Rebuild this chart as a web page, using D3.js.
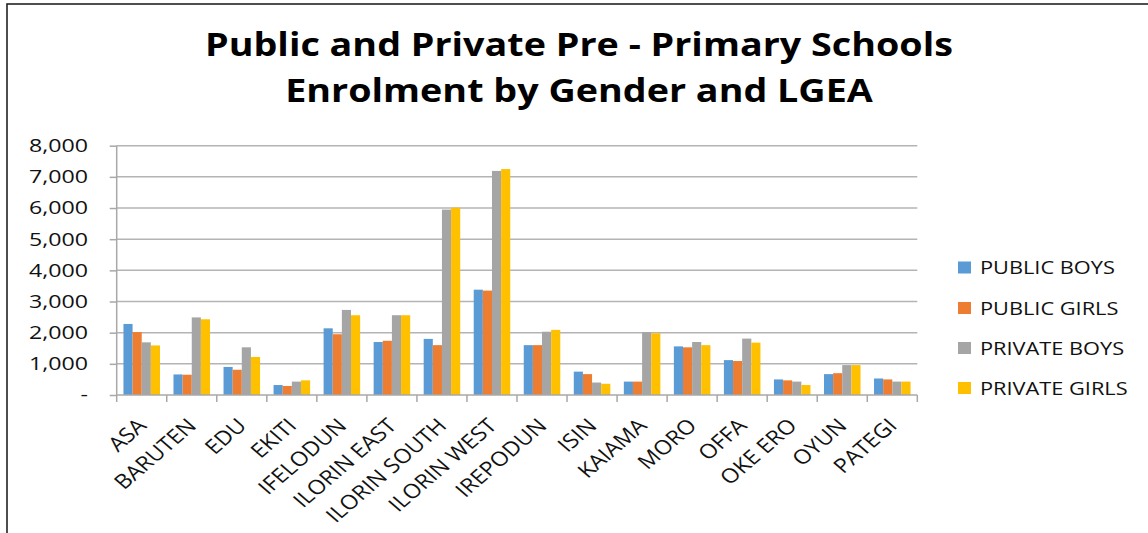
<!DOCTYPE html>
<html>
<head>
<meta charset="utf-8">
<script src="https://cdn.jsdelivr.net/npm/d3@7"></script>
<style>
  html, body { margin: 0; padding: 0; background: #fff; }
  svg { display: block; }
  text { font-family: "Open Sans", "Liberation Sans", sans-serif; }
</style>
</head>
<body>
<svg id="chart" width="1148" height="533"></svg>
<script>
const titleLines = ["Public and Private Pre - Primary Schools", "Enrolment by Gender and LGEA"];
const categories = ["ASA","BARUTEN","EDU","EKITI","IFELODUN","ILORIN EAST","ILORIN SOUTH","ILORIN WEST","IREPODUN","ISIN","KAIAMA","MORO","OFFA","OKE ERO","OYUN","PATEGI"];
const seriesNames = ["PUBLIC BOYS","PUBLIC GIRLS","PRIVATE BOYS","PRIVATE GIRLS"];
const seriesColors = ["#5b9bd5","#ed7d31","#a5a5a5","#ffc000"];
const publicBoys   = [2280, 660, 900, 320, 2140, 1700, 1800, 3380, 1600, 750, 430, 1560, 1120, 500, 670, 530];
const publicGirls  = [2020, 650, 810, 290, 1950, 1740, 1600, 3350, 1600, 670, 430, 1530, 1090, 470, 700, 500];
const privateBoys  = [1690, 2490, 1530, 430, 2730, 2560, 5950, 7190, 2030, 400, 2020, 1700, 1810, 430, 960, 430];
const privateGirls = [1590, 2430, 1220, 470, 2560, 2560, 6010, 7250, 2090, 360, 1980, 1600, 1680, 320, 960, 430];
const yTicks = [0, 1000, 2000, 3000, 4000, 5000, 6000, 7000, 8000];

const seriesValues = [publicBoys, publicGirls, privateBoys, privateGirls];
const svg = d3.select("#chart");

// outer border (only left and top visible)
svg.append("rect").attr("x", 7).attr("y", 4).attr("width", 1300).attr("height", 700)
  .attr("fill", "none").attr("stroke", "#222").attr("stroke-width", 1.6);

const plot = { left: 116.7, right: 917.3, top: 145.7, bottom: 395 };

const x0 = d3.scaleBand().domain(categories).range([plot.left, plot.right])
  .paddingInner(0.27).paddingOuter(0.135);
const x1 = d3.scaleBand().domain(seriesNames).range([0, x0.bandwidth()]);
const y = d3.scaleLinear().domain([0, 8000]).range([plot.bottom, plot.top]);
const color = d3.scaleOrdinal().domain(seriesNames).range(seriesColors);

// title
const tg = svg.append("g");
const titleY = [55.5, 102];
const tLines = titleLines.map((t, i) => tg.append("text")
  .attr("text-anchor", "middle").attr("font-weight", "bold").attr("font-size", 32)
  .attr("fill", "#000").text(t));
const tW = tLines[0].node().getComputedTextLength();
const tSx = 748 / tW;
tLines.forEach((s, i) => s.attr("transform", `translate(579,${titleY[i]}) scale(${tSx},1)`));

// gridlines
svg.append("g").selectAll("line").data(yTicks.filter(d => d > 0)).join("line")
  .attr("x1", plot.left).attr("x2", plot.right)
  .attr("y1", d => y(d)).attr("y2", d => y(d))
  .attr("stroke", "#b4b4b4").attr("stroke-width", 1.5);

// y axis
const yAxis = d3.axisLeft(y).tickValues(yTicks).tickSize(7)
  .tickFormat(d => d === 0 ? "-" : d3.format(",")(d));
const yg = svg.append("g").attr("transform", `translate(${plot.left},0)`).call(yAxis);
yg.select(".domain").attr("stroke", "#a8a8a8").attr("stroke-width", 1.5).attr("d", `M0,${plot.top}V${plot.bottom}`);
yg.selectAll(".tick line").attr("stroke", "#a8a8a8").attr("stroke-width", 1.5);
yg.selectAll(".tick text").attr("font-size", 17.5).attr("fill", "#111")
  .attr("font-family", "\"Open Sans\", sans-serif");
const refLabel = yg.selectAll(".tick text").filter(d => d === 8000).node();
const ySx = 59 / refLabel.getComputedTextLength();
yg.selectAll(".tick text")
  .attr("x", null).attr("dy", "0.34em")
  .attr("transform", d => `translate(${88 - plot.left},0) scale(${ySx},1)`);

// bars
const groups = svg.append("g").selectAll("g").data(categories).join("g")
  .attr("transform", d => `translate(${x0(d)},0)`);
groups.selectAll("rect")
  .data((c, i) => seriesNames.map((s, k) => ({ s, v: seriesValues[k][i] })))
  .join("rect")
  .attr("x", d => x1(d.s)).attr("width", x1.bandwidth())
  .attr("y", d => y(d.v)).attr("height", d => y(0) - y(d.v))
  .attr("fill", d => color(d.s));

// x axis baseline and ticks at category boundaries
const xg = svg.append("g");
xg.append("line").attr("x1", plot.left).attr("x2", plot.right)
  .attr("y1", plot.bottom).attr("y2", plot.bottom)
  .attr("stroke", "#a8a8a8").attr("stroke-width", 1.5);
const boundaries = categories.map((c, i) => plot.left + i * x0.step());
boundaries.push(plot.right);
xg.selectAll("line.tk").data(boundaries).join("line").attr("class", "tk")
  .attr("x1", d => d).attr("x2", d => d)
  .attr("y1", plot.bottom).attr("y2", plot.bottom + 7)
  .attr("stroke", "#a8a8a8").attr("stroke-width", 1.5);

// x labels, rotated
const probe = svg.append("text").attr("font-size", 17).text("ILORIN SOUTH");
const xFs = 17 * 137 / probe.node().getComputedTextLength();
probe.remove();
xg.selectAll("text").data(categories).join("text")
  .attr("text-anchor", "end").attr("font-size", xFs).attr("fill", "#111")
  .attr("transform", d => `translate(${x0(d) + x0.bandwidth() / 2 + 6},427) scale(1.16,1) rotate(-45)`)
  .text(d => d);

// legend
const lg = svg.append("g");
const legY = [267.5, 308, 348, 388];
const items = lg.selectAll("g").data(seriesNames).join("g")
  .attr("transform", (d, i) => `translate(958,${legY[i]})`);
items.append("rect").attr("x", 0).attr("y", -6).attr("width", 13).attr("height", 12)
  .attr("fill", d => color(d));
const legTexts = items.append("text").attr("font-size", 18.5).attr("fill", "#111").text(d => d);
const lW = legTexts.filter(d => d === "PUBLIC BOYS").node().getComputedTextLength();
const lSx = 135 / lW;
legTexts.attr("transform", `translate(22,6.5) scale(${lSx},1)`);
</script>
</body>
</html>
